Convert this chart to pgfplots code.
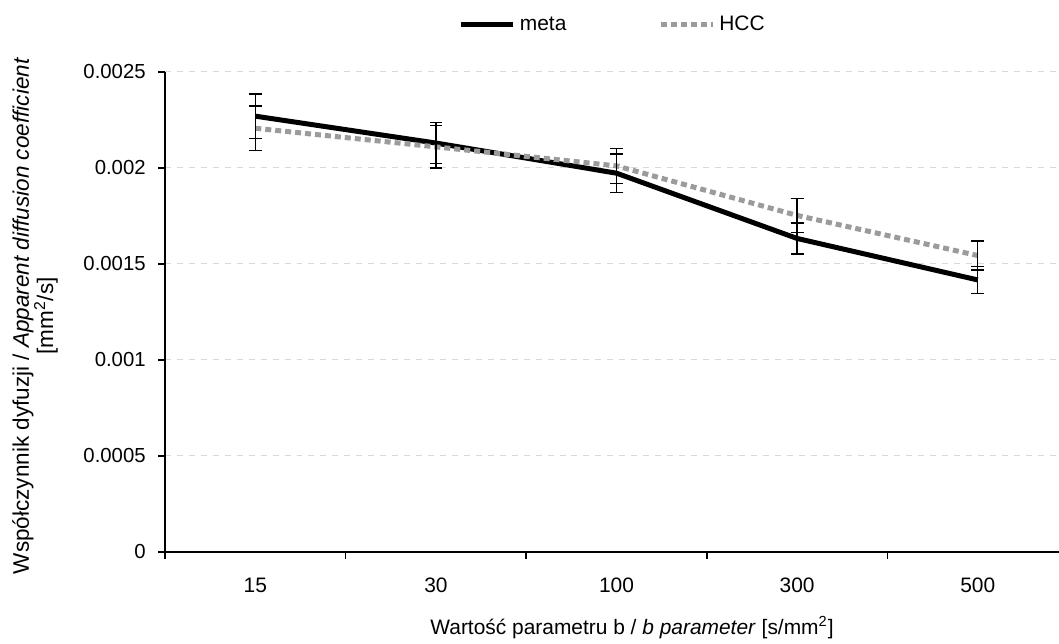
\documentclass[border=0pt]{standalone}
\usepackage{fontspec}
\setmainfont{Liberation Sans}
\usepackage{pgfplots}
\pgfplotsset{compat=1.18}
\definecolor{hccgray}{RGB}{155,155,155}
\definecolor{gridgray}{RGB}{217,217,217}
\begin{document}
\fontsize{10.5}{12.6}\selectfont
\begin{tikzpicture}
\begin{axis}[
  at={(0,0)}, anchor=south west,
  scale only axis,
  width=447bp, height=240bp,
  xmin=-0.5, xmax=4.45,
  ymin=0, ymax=0.0025,
  axis lines=left,
  axis line style={-, line width=1bp},
  font=\fontsize{10.5}{12.6}\selectfont,
  xtick={0,1,2,3,4},
  xticklabels={15,30,100,300,500},
  major x tick style={draw=none},
  minor xtick={-0.5,0.5,1.5,2.5,3.5},
  minor x tick style={black, line width=0.8bp},
  minor tick length=3.5bp,
  scaled y ticks=false,
  ytick={0,0.0005,0.001,0.0015,0.002,0.0025},
  yticklabels={0,0.0005,0.001,0.0015,0.002,0.0025},
  yticklabel style={font=\fontsize{10.2}{12}\selectfont, xshift=-2.5bp},
  y tick style={black, line width=0.8bp},
  major tick length=3.5bp,
  tick align=outside,
  ymajorgrids,
  grid style={gridgray, dashed, line width=0.5bp},
  xticklabel style={yshift=-6bp},
  xlabel={Wartość parametru b / \textit{b parameter} [s/mm\textsuperscript{2}]},
  xlabel style={at={(axis description cs:0.5,0)}, anchor=center, yshift=-38bp, xshift=10bp},
  ylabel={Współczynnik dyfuzji / \textit{Apparent diffusion coefficient}\\{}[mm\textsuperscript{2}/s]},
  ylabel style={at={(axis description cs:0,0.5)}, anchor=center, align=center, yshift=65bp, xshift=-2bp,
    font=\fontsize{11.3}{12.2}\selectfont},
  legend columns=2,
  legend style={draw=none, fill=none, at={(axis description cs:0.502,1)}, anchor=center, yshift=23.5bp,
    font=\fontsize{10.5}{12.6}\selectfont,
    /tikz/every even column/.append style={column sep=44bp}},
  legend image code/.code={\draw[#1] (0bp,0bp) -- (26bp,0bp);},
  error bars/error bar style={black, line width=0.7bp, solid},
  error bars/error mark options={rotate=90, mark size=3.2bp, black, line width=0.7bp, solid},
]
\addplot[black, line width=2.5bp, mark=none,
  error bars/.cd, y dir=both, y explicit]
  coordinates {
  (0,0.002270) +- (0,0.000115)
  (1,0.002130) +- (0,0.000107)
  (2,0.001973) +- (0,0.000100)
  (3,0.001633) +- (0,0.000080)
  (4,0.001417) +- (0,0.000070)
  };
\addlegendentry{meta}
\addplot[hccgray, line width=2.5bp, dash pattern=on 3bp off 2bp, mark=none,
  error bars/.cd, y dir=both, y explicit]
  coordinates {
  (0,0.002207) +- (0,0.000115)
  (1,0.002110) +- (0,0.000111)
  (2,0.002011) +- (0,0.000091)
  (3,0.001753) +- (0,0.000088)
  (4,0.001544) +- (0,0.000076)
  };
\addlegendentry{HCC}
\end{axis}
\pgfresetboundingbox
\path[use as bounding box] (-82.5bp,-46bp) rectangle (447bp,276bp);
\end{tikzpicture}
\end{document}
